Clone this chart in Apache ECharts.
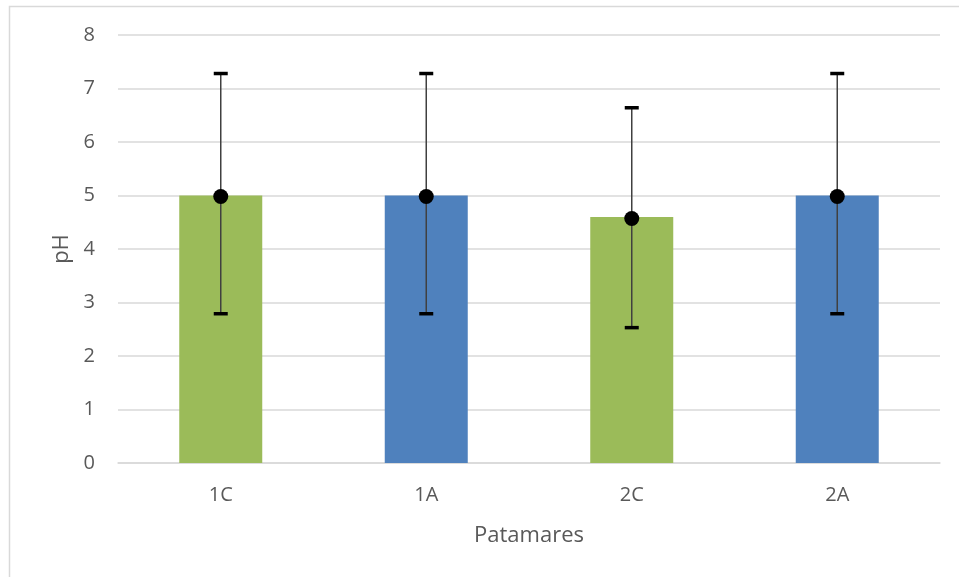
<!DOCTYPE html>
<html>
<head>
<meta charset="utf-8">
<script src="https://cdn.jsdelivr.net/npm/echarts@6/dist/echarts.min.js"></script>
<style>
html,body{margin:0;padding:0;background:#fff;}
#chart{width:959px;height:577px;}
</style>
</head>
<body>
<div id="chart"></div>
<script>
var categories = ['1C', '1A', '2C', '2A'];
var barValues = [5.0, 5.0, 4.6, 5.0];
var barColors = ['#9BBB59', '#4F81BD', '#9BBB59', '#4F81BD'];
var meanValues = [4.98, 4.98, 4.57, 4.98];
var errLow = [2.79, 2.79, 2.53, 2.79];
var errHigh = [7.28, 7.28, 6.64, 7.28];
var yTicks = [0, 1, 2, 3, 4, 5, 6, 7, 8];

var FONT = '"Open Sans", Lato, sans-serif';
var chart = echarts.init(document.getElementById('chart'), null, {renderer: 'canvas'});

var errData = categories.map(function (c, i) { return [i, errLow[i], errHigh[i]]; });

chart.setOption({
  animation: false,
  backgroundColor: '#fff',
  graphic: [{
    type: 'rect',
    shape: {x: 9.5, y: 6.5, width: 1000, height: 1000},
    style: {fill: 'none', stroke: '#d9d9d9', lineWidth: 1.5},
    silent: true
  }],
  grid: {left: 118, right: 19, top: 35, bottom: 114, containLabel: false},
  xAxis: {
    type: 'category',
    data: categories,
    axisLine: {show: true, lineStyle: {color: '#d9d9d9', width: 1.5}},
    axisTick: {show: false},
    axisLabel: {color: '#595959', fontSize: 20, fontFamily: FONT, margin: 22},
    name: 'Patamares',
    nameLocation: 'middle',
    nameGap: 62,
    nameTextStyle: {color: '#595959', fontSize: 22, fontFamily: FONT}
  },
  yAxis: {
    type: 'value',
    min: yTicks[0],
    max: yTicks[yTicks.length - 1],
    interval: 1,
    axisLine: {show: false},
    axisTick: {show: false},
    splitLine: {lineStyle: {color: '#d9d9d9', width: 1.5}},
    axisLabel: {color: '#595959', fontSize: 20, fontFamily: FONT, margin: 23},
    name: 'pH',
    nameLocation: 'middle',
    nameGap: 44,
    nameTextStyle: {color: '#595959', fontSize: 22, fontFamily: FONT}
  },
  series: [
    {
      type: 'bar',
      data: barValues.map(function (v, i) { return {value: v, itemStyle: {color: barColors[i]}}; }),
      barWidth: 83
    },
    {
      type: 'custom',
      data: errData,
      z: 5,
      renderItem: function (params, api) {
        var x = api.value(0);
        var lo = api.coord([x, api.value(1)]);
        var hi = api.coord([x, api.value(2)]);
        var half = 7;
        return {
          type: 'group',
          children: [
            {type: 'line', shape: {x1: lo[0], y1: lo[1], x2: hi[0], y2: hi[1]}, style: {stroke: '#404040', lineWidth: 1.5}},
            {type: 'line', shape: {x1: lo[0] - half, y1: lo[1], x2: lo[0] + half, y2: lo[1]}, style: {stroke: '#000', lineWidth: 3.5}},
            {type: 'line', shape: {x1: hi[0] - half, y1: hi[1], x2: hi[0] + half, y2: hi[1]}, style: {stroke: '#000', lineWidth: 3.5}}
          ]
        };
      }
    },
    {
      type: 'scatter',
      data: meanValues,
      symbol: 'circle',
      symbolSize: 15,
      z: 6,
      itemStyle: {color: '#000', opacity: 1}
    }
  ]
});
</script>
</body>
</html>
